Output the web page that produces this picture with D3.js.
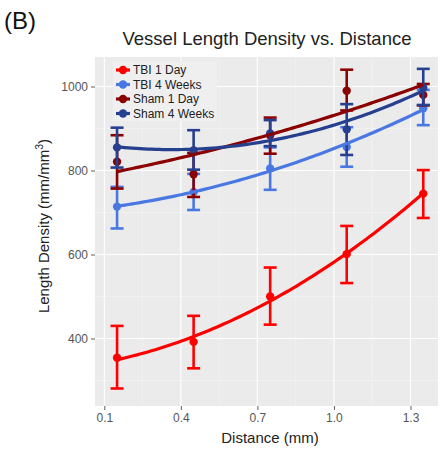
<!DOCTYPE html>
<html>
<head>
<meta charset="utf-8">
<script src="https://cdn.jsdelivr.net/npm/d3@7"></script>
<style>
  html, body { margin: 0; padding: 0; background: #fff; }
  svg { display: block; font-family: "Liberation Sans", Arial, Helvetica, sans-serif; }
</style>
</head>
<body>
<svg id="chart" width="440" height="449"></svg>
<script>
// ---- data ----
const distances = [0.15, 0.45, 0.75, 1.05, 1.35];
const seriesNames = ["TBI 1 Day", "TBI 4 Weeks", "Sham 1 Day", "Sham 4 Weeks"];
const seriesColors = ["#ff0000", "#4a78e2", "#8b0000", "#263f8f"];
const tbi1Mean = [354, 392, 500, 601, 745];
const tbi1Low  = [281, 329, 433, 532, 687];
const tbi1High = [430, 454, 569, 668, 801];
const tbi4Mean = [714, 749, 805, 856, 948];
const tbi4Low  = [662, 706, 754, 809, 908];
const tbi4High = [761, 792, 855, 903, 992];
const sham1Mean = [821, 791, 884, 990, 980];
const sham1Low  = [757, 737, 840, 943, 955];
const sham1High = [884, 842, 926, 1040, 1006];
const sham4Mean = [855, 848, 888, 898, 997];
const sham4Low  = [807, 802, 858, 837, 956];
const sham4High = [902, 896, 920, 958, 1042];
const xTicks = [0.1, 0.4, 0.7, 1.0, 1.3];
const xTickLabels = ["0.1", "0.4", "0.7", "1.0", "1.3"];
const yTicks = [400, 600, 800, 1000];
const yTickLabels = ["400", "600", "800", "1000"];

const series = [
  {name: seriesNames[0], color: seriesColors[0], mean: tbi1Mean, lo: tbi1Low, hi: tbi1High},
  {name: seriesNames[1], color: seriesColors[1], mean: tbi4Mean, lo: tbi4Low, hi: tbi4High},
  {name: seriesNames[2], color: seriesColors[2], mean: sham1Mean, lo: sham1Low, hi: sham1High},
  {name: seriesNames[3], color: seriesColors[3], mean: sham4Mean, lo: sham4Low, hi: sham4High}
];

// ---- layout ----
const panel = {left: 95, right: 438, top: 57, bottom: 406};
const x = d3.scaleLinear().domain([0.1, 1.3]).range([104.3, 410.5]);
const y = d3.scaleLinear().domain([400, 1000]).range([338.5, 86.5]);

const svg = d3.select("#chart");

// panel
svg.append("rect")
  .attr("x", panel.left).attr("y", panel.top)
  .attr("width", panel.right - panel.left).attr("height", panel.bottom - panel.top)
  .attr("fill", "#ebebeb");

const grid = svg.append("g");
// minor grid
const xMinor = xTicks.slice(0, -1).map((d, i) => (d + xTicks[i + 1]) / 2);
const yMinor = [300, 500, 700, 900];
grid.selectAll(".xm").data(xMinor).join("line")
  .attr("x1", d => x(d)).attr("x2", d => x(d))
  .attr("y1", panel.top).attr("y2", panel.bottom)
  .attr("stroke", "#f5f5f5").attr("stroke-width", 0.6);
grid.selectAll(".ym").data(yMinor).join("line")
  .attr("y1", d => y(d)).attr("y2", d => y(d))
  .attr("x1", panel.left).attr("x2", panel.right)
  .attr("stroke", "#f5f5f5").attr("stroke-width", 0.6);
// major grid
grid.selectAll(".xM").data(xTicks).join("line")
  .attr("x1", d => x(d)).attr("x2", d => x(d))
  .attr("y1", panel.top).attr("y2", panel.bottom)
  .attr("stroke", "#ffffff").attr("stroke-width", 1.1);
grid.selectAll(".yM").data(yTicks).join("line")
  .attr("y1", d => y(d)).attr("y2", d => y(d))
  .attr("x1", panel.left).attr("x2", panel.right)
  .attr("stroke", "#ffffff").attr("stroke-width", 1.1);

// axes
const xAxis = d3.axisBottom(x).tickValues(xTicks).tickFormat((d, i) => xTickLabels[i]).tickSize(4).tickPadding(3);
const gx = svg.append("g").attr("transform", `translate(0,${panel.bottom})`).call(xAxis);
gx.select(".domain").remove();
gx.selectAll("line").attr("stroke", "#333").attr("stroke-width", 0.8);
gx.selectAll("text").attr("fill", "#555").attr("font-size", 12).attr("font-family", "Liberation Sans, Arial, sans-serif");

const yAxis = d3.axisLeft(y).tickValues(yTicks).tickFormat((d, i) => yTickLabels[i]).tickSize(4).tickPadding(3);
const gy = svg.append("g").attr("transform", `translate(${panel.left},0)`).call(yAxis);
gy.select(".domain").remove();
gy.selectAll("line").attr("stroke", "#333").attr("stroke-width", 0.8);
gy.selectAll("text").attr("fill", "#555").attr("font-size", 12).attr("font-family", "Liberation Sans, Arial, sans-serif");

// quadratic least-squares smooth (like geom_smooth y ~ poly(x,2))
function quadFit(xs, ys) {
  const n = xs.length;
  let s = [0,0,0,0,0], t = [0,0,0];
  for (let i = 0; i < n; i++) {
    const xv = xs[i], yv = ys[i];
    for (let k = 0; k < 5; k++) s[k] += Math.pow(xv, k);
    for (let k = 0; k < 3; k++) t[k] += yv * Math.pow(xv, k);
  }
  const A = [[s[0], s[1], s[2]], [s[1], s[2], s[3]], [s[2], s[3], s[4]]];
  const b = t.slice();
  for (let i = 0; i < 3; i++) {
    for (let j = i + 1; j < 3; j++) {
      const f = A[j][i] / A[i][i];
      for (let k = i; k < 3; k++) A[j][k] -= f * A[i][k];
      b[j] -= f * b[i];
    }
  }
  const c = [0,0,0];
  for (let i = 2; i >= 0; i--) {
    let v = b[i];
    for (let k = i + 1; k < 3; k++) v -= A[i][k] * c[k];
    c[i] = v / A[i][i];
  }
  return xv => c[0] + c[1] * xv + c[2] * xv * xv;
}

const plot = svg.append("g");
const capHalf = 6.5;

series.forEach(s => {
  const g = plot.append("g");
  const pts = distances.map((d, i) => ({x: d, m: s.mean[i], lo: s.lo[i], hi: s.hi[i]}));
  g.selectAll(".v").data(pts).join("line")
    .attr("x1", d => x(d.x)).attr("x2", d => x(d.x))
    .attr("y1", d => y(d.lo)).attr("y2", d => y(d.hi))
    .attr("stroke", s.color).attr("stroke-width", 2.6);
  g.selectAll(".ct").data(pts).join("line")
    .attr("x1", d => x(d.x) - capHalf).attr("x2", d => x(d.x) + capHalf)
    .attr("y1", d => y(d.hi)).attr("y2", d => y(d.hi))
    .attr("stroke", s.color).attr("stroke-width", 2.6);
  g.selectAll(".cb").data(pts).join("line")
    .attr("x1", d => x(d.x) - capHalf).attr("x2", d => x(d.x) + capHalf)
    .attr("y1", d => y(d.lo)).attr("y2", d => y(d.lo))
    .attr("stroke", s.color).attr("stroke-width", 2.6);
  g.selectAll("circle").data(pts).join("circle")
    .attr("cx", d => x(d.x)).attr("cy", d => y(d.m)).attr("r", 4.2)
    .attr("fill", s.color);
});

series.forEach(s => {
  const f = quadFit(distances, s.mean);
  const xs = d3.range(0, 81).map(i => distances[0] + (distances[distances.length - 1] - distances[0]) * i / 80);
  plot.append("path")
    .datum(xs)
    .attr("d", d3.line().x(d => x(d)).y(d => y(f(d))))
    .attr("fill", "none").attr("stroke", s.color).attr("stroke-width", 3.2)
    .attr("stroke-linecap", "butt");
});

// legend
const legend = svg.append("g");
legend.append("rect").attr("x", 113).attr("y", 61).attr("width", 104).attr("height", 60)
  .attr("fill", "#efefef");
const legY = [70, 84.5, 99, 113.5];
series.forEach((s, i) => {
  legend.append("line").attr("x1", 116).attr("x2", 130).attr("y1", legY[i]).attr("y2", legY[i])
    .attr("stroke", s.color).attr("stroke-width", 3.2);
  legend.append("circle").attr("cx", 123).attr("cy", legY[i]).attr("r", 4.2).attr("fill", s.color);
  legend.append("text").attr("x", 133).attr("y", legY[i]).attr("dy", "0.35em")
    .attr("font-size", 12).attr("fill", "#222").text(s.name);
});

// titles
svg.append("text").attr("x", 4).attr("y", 29).attr("font-size", 24).attr("fill", "#111").text("(B)");
svg.append("text").attr("x", 267).attr("y", 45).attr("text-anchor", "middle")
  .attr("font-size", 18.5).attr("fill", "#222").text("Vessel Length Density vs. Distance");
svg.append("text").attr("x", 270).attr("y", 443).attr("text-anchor", "middle")
  .attr("font-size", 15).attr("fill", "#222").text("Distance (mm)");
const yl = svg.append("text").attr("transform", "translate(49,226) rotate(-90)")
  .attr("text-anchor", "middle").attr("font-size", 15).attr("fill", "#222");
yl.append("tspan").text("Length Density (mm/mm");
yl.append("tspan").attr("dy", -6).attr("font-size", 10.5).text("3");
yl.append("tspan").attr("dy", 6).text(")");
</script>
</body>
</html>
